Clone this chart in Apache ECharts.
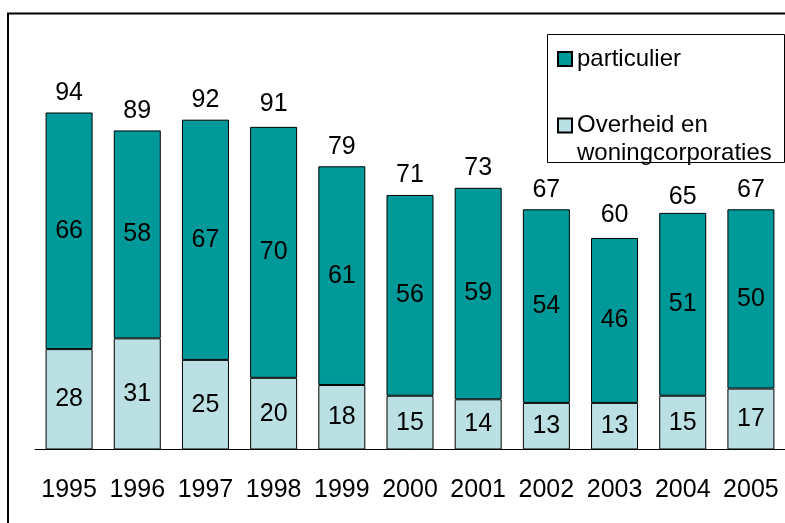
<!DOCTYPE html>
<html>
<head>
<meta charset="utf-8">
<script src="https://cdn.jsdelivr.net/npm/echarts@6/dist/echarts.min.js"></script>
<style>
html,body{margin:0;padding:0;background:#fff;}
#chart{width:785px;height:523px;}
</style>
</head>
<body>
<div id="chart"></div>
<script>
var years = ['1995','1996','1997','1998','1999','2000','2001','2002','2003','2004','2005'];
var particulier = [66, 58, 67, 70, 61, 56, 59, 54, 46, 51, 50];
var overheid = [28, 31, 25, 20, 18, 15, 14, 13, 13, 15, 17];
var totals = [94, 89, 92, 91, 79, 71, 73, 67, 60, 65, 67];
var nameP = 'particulier';
var nameO = 'Overheid en woningcorporaties';

var FONT = "'Liberation Sans', Arial, sans-serif";
var chart = echarts.init(document.getElementById('chart'), null, {renderer: 'canvas'});
chart.setOption({
  animation: false,
  backgroundColor: '#ffffff',
  grid: {left: 35, width: 752, top: 91, height: 358.5, containLabel: false},
  xAxis: {
    type: 'category',
    data: years,
    axisLine: {show: true, lineStyle: {color: '#000', width: 1}},
    axisTick: {show: false},
    axisLabel: {interval: 0, color: '#000', fontSize: 25, fontFamily: FONT, margin: 28}
  },
  yAxis: {
    type: 'value', min: 0, max: 100,
    show: false, splitLine: {show: false}
  },
  legend: [{
    left: 557, top: 45, padding: 0,
    orient: 'vertical', selectedMode: false,
    itemWidth: 14, itemHeight: 14,
    data: [{name: nameP, icon: 'rect'}],
    textStyle: {fontSize: 24, fontFamily: FONT, color: '#000', lineHeight: 28}
  }, {
    left: 557, top: 83.5, padding: 0,
    orient: 'vertical', selectedMode: false,
    itemWidth: 14, itemHeight: 14,
    data: [{name: nameO, icon: 'rect'}],
    formatter: function () { return ' \nOverheid en\nwoningcorporaties'; },
    textStyle: {fontSize: 24, fontFamily: FONT, color: '#000', lineHeight: 28}
  }],
  graphic: [
    {type: 'rect', silent: true, z: 100,
     shape: {x: 8, y: 13.5, width: 820, height: 540},
     style: {fill: 'none', stroke: '#000', lineWidth: 2}},
    {type: 'rect', silent: true, z: 100,
     shape: {x: 547.5, y: 34.5, width: 237, height: 128},
     style: {fill: 'none', stroke: '#000', lineWidth: 1}}
  ],
  series: [{
    name: nameO, type: 'bar', stack: 'a', data: overheid,
    barWidth: 47, barGap: '-100%',
    itemStyle: {color: '#bbe0e3', borderColor: '#000', borderWidth: 1},
    label: {show: true, position: 'inside', fontSize: 25, fontFamily: FONT, color: '#000'}
  }, {
    name: nameP, type: 'bar', stack: 'a', data: particulier,
    barWidth: 47, barGap: '-100%',
    itemStyle: {color: '#009999', borderColor: '#000', borderWidth: 1},
    label: {show: true, position: 'inside', fontSize: 25, fontFamily: FONT, color: '#000'}
  }, {
    name: 'totaal', type: 'bar', data: totals,
    barWidth: 47, barGap: '-100%', z: 1, silent: true,
    itemStyle: {color: 'rgba(0,0,0,0)', borderWidth: 0},
    label: {show: true, position: 'top', distance: 7, fontSize: 25, fontFamily: FONT, color: '#000'}
  }]
});
</script>
</body>
</html>
